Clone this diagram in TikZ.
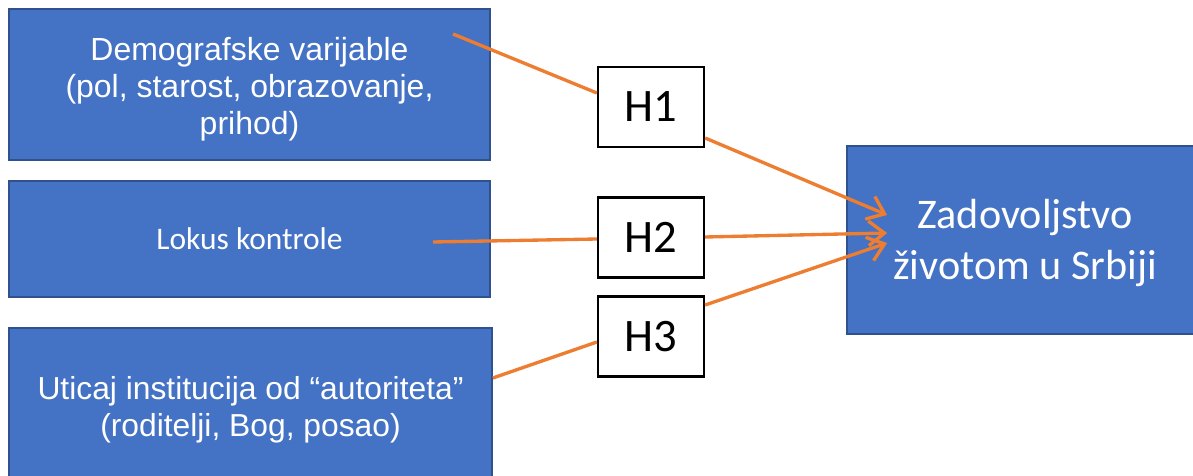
\documentclass[tikz,border=0pt]{standalone}
\usepackage{fontspec}
\setmainfont{Liberation Sans}
\newfontfamily\calibrifont{Carlito}
\usetikzlibrary{arrows.meta,calc}

\definecolor{boxblue}{HTML}{4472C4}
\definecolor{boxedge}{HTML}{2F528F}
\definecolor{linkorange}{HTML}{ED7D31}

\tikzset{
  factor/.style={draw=boxedge, line width=1pt, fill=boxblue, text=white,
    align=center, inner sep=0pt},
  boxtext/.style={text=white, align=center, inner sep=0pt},
  hypbox/.style={draw=black, line width=1.3pt, fill=white, inner sep=0pt,
    minimum width=106*0.02cm, minimum height=80*0.02cm,
    font=\calibrifont\fontsize{26.5}{30}\selectfont},
  link/.style={draw=linkorange, line width=1.9pt},
  linkarrow/.style={link, -{Straight Barb[length=9pt,width=14pt,line width=1.9pt]}}
}

\begin{document}
\begin{tikzpicture}[x=0.02cm,y=-0.02cm]
  \useasboundingbox (0,0) rectangle (1193,476);

  % predictor boxes on the left
  \node[factor, minimum width=481*0.02cm, minimum height=151*0.02cm]
    (demo) at (249.5,84.5) {};
  \node[boxtext, font=\fontsize{18.2}{21}\selectfont] (demotext)
    at ($(demo.center)+(0,5)$)
    {Demografske varijable\\(pol, starost, obrazovanje,\\prihod)};
  \node[factor, minimum width=481*0.02cm, minimum height=116*0.02cm,
        font=\calibrifont\fontsize{17.9}{21}\selectfont] (lokus) at (249.5,239)
    {Lokus kontrole};
  \node[factor, minimum width=483*0.02cm, minimum height=164*0.02cm,
        font=\fontsize{18.1}{21}\selectfont] (uticaj) at (250.5,410)
    {Uticaj institucija od “autoriteta”\\(roditelji, Bog, posao)};

  % outcome box on the right
  \node[factor, minimum width=356*0.02cm, minimum height=188*0.02cm]
    (zad) at (1025,240) {};
  \node[boxtext, font=\calibrifont\fontsize{24}{28.5}\selectfont] (zadtext)
    at ($(zad.center)+(0,3)$)
    {Zadovoljstvo\\životom u Srbiji};

  % hypothesis boxes
  \node[hypbox] (h1) at (651,107) {H1};
  \node[hypbox] (h2) at (651,237.5) {H2};
  \node[hypbox] (h3) at (651,336.5) {H3};

  % free ends of the links inside the predictor boxes
  \coordinate (demoout) at (453,34);
  \coordinate (lokusout) at (433,242);

  % links from predictors to hypotheses
  \draw[link] (demoout) -- ($(h1.west)+(0,-14)$);
  \draw[link] (lokusout) -- ($(h2.west)+(0,1.5)$);
  \draw[link] ($(uticaj.east)+(0,-32)$) -- ($(h3.west)+(0,5.5)$);

  % links from hypotheses to the outcome
  \draw[linkarrow] ($(h1.east)+(0,31)$) -- ($(zad.west)+(41,-25)$);
  \draw[linkarrow] ($(h2.east)+(0,-0.5)$) -- ($(zad.west)+(41,-7)$);
  \draw[linkarrow] ($(h3.east)+(0,-31.5)$) -- ($(zad.west)+(41,3)$);
\end{tikzpicture}
\end{document}
